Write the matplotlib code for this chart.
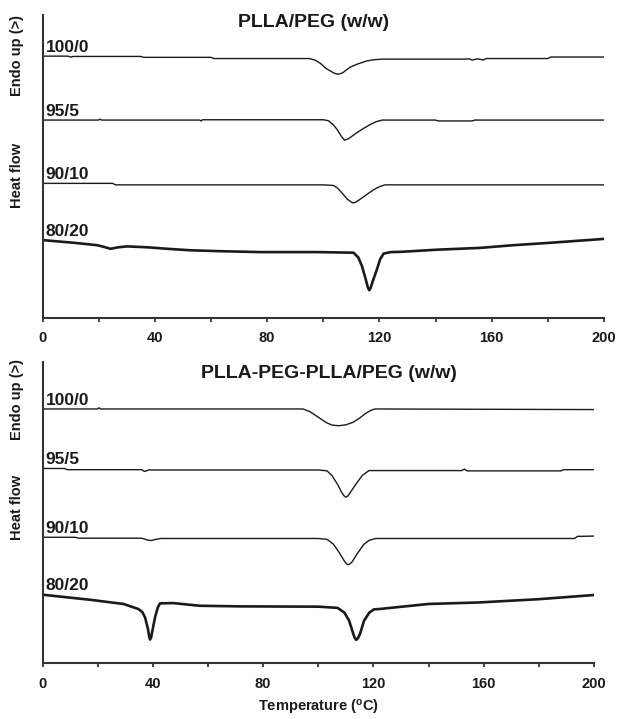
import matplotlib

matplotlib.use("Agg")
import matplotlib.pyplot as plt
from matplotlib.ticker import MultipleLocator

plt.rcParams["font.family"] = ["Liberation Sans", "DejaVu Sans"]
plt.rcParams["font.weight"] = "bold"

INK = "#1a1a1a"

# ---- PLLA/PEG (w/w) : temperature (C) / heat flow (arb. units) ----
top_t_100 = [0, 9, 10, 11, 35, 36, 60, 61, 95, 97, 99, 101, 103, 104, 105, 106, 107, 109.5, 112,
             115.5, 118, 121, 150, 152, 153, 155, 157, 158, 180, 181, 200]
top_v_100 = [87.1, 87.1, 86.8, 87.0, 87.0, 86.7, 86.7, 86.3, 86.3, 85.8, 84.7, 83.0, 81.9, 81.4,
             81.1, 81.2, 81.6, 83.4, 84.4, 85.5, 85.9, 86.1, 86.1, 86.2, 85.8, 86.2, 85.8, 86.3,
             86.3, 86.8, 86.8]

top_t_95 = [0, 20, 20.5, 21, 56, 56.5, 57, 100, 101.8, 103.5, 104.9, 106.5, 107.6, 109, 112, 114.5,
            116.7, 119, 121, 140, 141, 153, 154, 200]
top_v_95 = [65.8, 65.8, 66.1, 65.8, 65.8, 65.5, 65.9, 65.9, 65.6, 64.3, 62.7, 60.3, 59.1, 59.6,
            61.6, 63.1, 64.3, 65.3, 65.8, 65.8, 65.5, 65.5, 65.8, 65.8]

top_t_90 = [0, 25, 26, 100, 103.7, 105, 106.6, 108.5, 109.8, 110.6, 111.5, 112.5, 115.5, 118, 120,
            122, 200]
top_v_90 = [44.7, 44.7, 44.2, 44.2, 44.0, 43.2, 41.6, 39.5, 38.6, 38.2, 38.4, 39.0, 41.0, 42.6,
            43.6, 44.2, 44.2]

top_t_80 = [0, 11.2, 19.5, 22, 24.2, 27, 30.1, 37.3, 44.4, 52.7, 63.3, 77.6, 97.8, 110.8, 112.5,
            113.8, 115.2, 115.9, 116.4, 116.9, 117.6, 119.1, 120.3, 121.5, 124, 128, 140.5, 155.9,
            167.7, 180.8, 198.6, 200]
top_v_80 = [25.8, 24.9, 24.1, 23.5, 22.9, 23.4, 23.7, 23.4, 22.9, 22.4, 22.1, 21.8, 21.8, 21.6,
            20.0, 17.1, 12.5, 10.0, 9.1, 9.9, 12.0, 16.0, 19.5, 21.3, 21.8, 21.9, 22.6, 23.2,
            24.1, 24.9, 26.1, 26.2]

# ---- PLLA-PEG-PLLA/PEG (w/w) ----
bot_t_100 = [0, 20, 20.5, 21, 94.5, 97, 100.4, 103, 105, 107.5, 110, 112.5, 114.8, 117, 119,
             120.5, 200]
bot_v_100 = [85.9, 85.9, 86.3, 85.9, 85.9, 85.0, 82.9, 81.3, 80.5, 80.3, 80.6, 81.4, 82.7, 84.3,
             85.4, 85.9, 85.7]

bot_t_95 = [0, 8, 9, 36, 37, 38.5, 100, 103.2, 105, 107, 108.5, 109.3, 110, 110.7, 111.5, 113.6,
            116, 118.4, 152, 153, 154, 188, 189, 200]
bot_v_95 = [66.0, 66.0, 65.6, 65.6, 65.0, 65.5, 65.5, 65.2, 63.6, 60.7, 58.0, 56.9, 56.4, 56.8,
            57.8, 60.7, 63.7, 65.3, 65.3, 65.8, 65.2, 65.2, 65.6, 65.6]

bot_t_90 = [0, 12, 13, 36, 38, 39.5, 41, 43, 100, 103.2, 105.5, 107.6, 109.5, 110.2, 110.8, 111.5,
            112.3, 114.2, 116.5, 118.5, 120.8, 193, 194, 200]
bot_v_90 = [43.0, 43.0, 42.7, 42.7, 42.1, 41.9, 42.3, 42.6, 42.6, 42.3, 40.7, 37.9, 35.0, 34.2,
            33.8, 34.1, 34.8, 37.6, 40.6, 42.0, 42.6, 42.6, 43.3, 43.4]

bot_t_80 = [0, 17.3, 29.4, 34.8, 36.2, 37.2, 38.2, 38.7, 39.0, 39.4, 39.8, 40.8, 41.8, 42.6, 47.4,
            57, 71.5, 100, 107, 109.5, 111.2, 112.6, 113.2, 113.8, 114.4, 115.2, 116.6, 118.5,
            120.2, 122, 140, 158.1, 180, 200]
bot_v_80 = [23.8, 22.1, 20.7, 19.0, 18.0, 16.2, 12.5, 9.8, 8.8, 9.6, 11.5, 16.2, 19.5, 20.9, 21.0,
            20.1, 19.9, 19.8, 19.4, 17.8, 15.1, 11.0, 9.4, 8.7, 9.3, 10.8, 15.1, 17.8, 18.9, 19.0,
            20.7, 21.2, 22.3, 23.7]

ratios = ["100/0", "95/5", "90/10", "80/20"]
widths = [1.0, 1.0, 1.0, 1.9]
xticks = [0, 40, 80, 120, 160, 200]

panels = [
    dict(title="PLLA/PEG (w/w)", rect=[0.0689, 0.5584, 0.910, 0.4207], ylim=(0.0, 100.8),
         title_xy=(0.482, 0.976),
         curves=[(top_t_100, top_v_100), (top_t_95, top_v_95), (top_t_90, top_v_90),
                 (top_t_80, top_v_80)],
         ylab_y=(0.9235, 0.7566), xlabel=False),
    dict(title="PLLA-PEG-PLLA/PEG (w/w)", rect=[0.0689, 0.0772, 0.8938, 0.4193],
         ylim=(0.8, 101.6), title_xy=(0.52, 0.963),
         curves=[(bot_t_100, bot_v_100), (bot_t_95, bot_v_95), (bot_t_90, bot_v_90),
                 (bot_t_80, bot_v_80)],
         ylab_y=(0.4437, 0.2949), xlabel=True),
]

fig = plt.figure(figsize=(6.17, 7.19), dpi=100)

for p in panels:
    ax = fig.add_axes(p["rect"])
    for (t, v), lab, lw in zip(p["curves"], ratios, widths):
        ax.plot(t, v, color=INK, lw=lw, solid_joinstyle="round")
        ax.annotate(lab, xy=(t[0], v[0]), xytext=(2.3, 3.2), textcoords="offset points",
                    ha="left", va="baseline", fontsize=12.5, fontweight="bold", color=INK)
    ax.set_xlim(0, 200)
    ax.set_ylim(*p["ylim"])
    ax.set_xticks(xticks)
    ax.xaxis.set_minor_locator(MultipleLocator(20))
    ax.set_yticks([])
    ax.tick_params(axis="x", which="both", direction="out", length=3, width=1.3,
                   color="#333333", pad=6.5, labelsize=10.5, labelcolor=INK)
    for lbl in ax.get_xticklabels():
        lbl.set_fontweight("bold")
    for side in ("top", "right"):
        ax.spines[side].set_visible(False)
    for side in ("left", "bottom"):
        ax.spines[side].set_linewidth(1.5)
        ax.spines[side].set_color("#333333")
    ax.text(*p["title_xy"], p["title"], transform=ax.transAxes, ha="center", va="center",
            fontsize=14, fontweight="bold", color=INK)
    fig.text(0.028, p["ylab_y"][0], "Endo up (>)", rotation=90, ha="center", va="center",
             fontsize=10.5, fontweight="bold", color=INK)
    fig.text(0.028, p["ylab_y"][1], "Heat flow", rotation=90, ha="center", va="center",
             fontsize=10.5, fontweight="bold", color=INK)
    if p["xlabel"]:
        ax.set_xlabel(r"Temperature ($\mathregular{^{o}}$C)", fontsize=10.5, fontweight="bold",
                      color=INK, labelpad=5)

fig.savefig("out.png", dpi=100)
